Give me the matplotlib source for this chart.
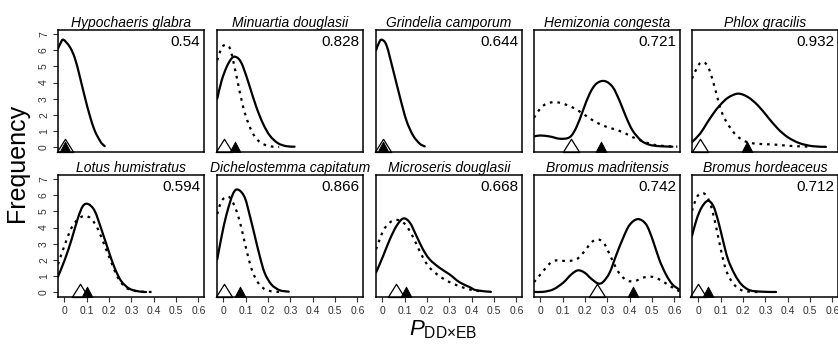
import matplotlib
matplotlib.use('Agg')
import matplotlib.pyplot as plt
import numpy as np
from matplotlib.path import Path
from matplotlib.patches import PathPatch

plt.rcParams['font.family'] = ['Liberation Sans', 'DejaVu Sans']
plt.rcParams['mathtext.fontset'] = 'custom'
plt.rcParams['mathtext.rm'] = 'Liberation Sans'
plt.rcParams['mathtext.it'] = 'Liberation Sans:italic'

# ---------------- data ----------------
titles = ['Hypochaeris glabra', 'Minuartia douglasii', 'Grindelia camporum',
          'Hemizonia congesta', 'Phlox gracilis',
          'Lotus humistratus', 'Dichelostemma capitatum', 'Microseris douglasii',
          'Bromus madritensis', 'Bromus hordeaceus']
scores = ['0.54', '0.828', '0.644', '0.721', '0.932',
          '0.594', '0.866', '0.668', '0.742', '0.712']
open_tri_x = [0.002, 0.002, 0.002, 0.136, 0.010, 0.070, 0.003, 0.060, 0.253, 0.000]
filled_tri_x = [0.002, 0.052, 0.002, 0.273, 0.220, 0.102, 0.077, 0.108, 0.413, 0.044]

x_ticks = [0, 0.1, 0.2, 0.3, 0.4, 0.5, 0.6]
x_tick_labels = ['0', '0.1', '0.2', '0.3', '0.4', '0.5', '0.6']
y_ticks = [0, 1, 2, 3, 4, 5, 6, 7]

# solid curves
s1_x = [-0.028, -0.016, -0.004, 0.025, 0.048, 0.070, 0.092, 0.114, 0.136, 0.159, 0.170, 0.181]
s1_y = [6.10, 6.45, 6.65, 6.20, 5.48, 4.34, 3.10, 1.96, 1.03, 0.41, 0.20, 0.06]
s2_x = [-0.027, -0.007, 0.015, 0.035, 0.050, 0.070, 0.089, 0.119, 0.148, 0.178, 0.208, 0.244, 0.282, 0.319]
s2_y = [3.00, 4.13, 4.96, 5.45, 5.60, 5.45, 4.96, 3.72, 2.48, 1.45, 0.72, 0.25, 0.06, 0.03]
s3_x = [-0.028, -0.015, -0.003, 0.019, 0.049, 0.079, 0.108, 0.138, 0.168, 0.190]
s3_y = [6.00, 6.45, 6.65, 6.30, 4.75, 3.10, 1.65, 0.72, 0.21, 0.05]
s4_x = [-0.028, -0.001, 0.043, 0.088, 0.132, 0.162, 0.191, 0.221, 0.251, 0.288, 0.324, 0.354, 0.384, 0.413, 0.451, 0.488, 0.532, 0.591]
s4_y = [0.66, 0.72, 0.66, 0.52, 0.62, 1.24, 2.27, 3.31, 3.93, 4.09, 3.72, 2.89, 1.86, 1.03, 0.41, 0.15, 0.06, 0.03]
s5_x = [-0.028, 0.008, 0.037, 0.067, 0.096, 0.133, 0.178, 0.222, 0.267, 0.311, 0.356, 0.400, 0.452, 0.511, 0.571]
s5_y = [0.31, 0.83, 1.45, 2.07, 2.58, 3.06, 3.31, 3.10, 2.58, 1.86, 1.14, 0.62, 0.25, 0.06, 0.02]
s6_x = [-0.028, 0.003, 0.033, 0.062, 0.084, 0.107, 0.136, 0.166, 0.196, 0.225, 0.255, 0.292, 0.336, 0.366]
s6_y = [0.96, 2.03, 3.27, 4.62, 5.34, 5.45, 5.03, 3.89, 2.65, 1.51, 0.68, 0.21, 0.04, 0.01]
s7_x = [-0.027, -0.007, 0.015, 0.044, 0.067, 0.096, 0.119, 0.141, 0.163, 0.185, 0.215, 0.252, 0.293]
s7_y = [2.03, 3.48, 4.83, 6.10, 6.34, 5.86, 4.72, 3.48, 2.24, 1.20, 0.48, 0.12, 0.03]
s8_x = [-0.028, 0.004, 0.034, 0.064, 0.094, 0.123, 0.153, 0.182, 0.212, 0.256, 0.301, 0.345, 0.390, 0.420, 0.486]
s8_y = [1.20, 2.24, 3.27, 4.10, 4.56, 4.31, 3.48, 2.65, 2.03, 1.51, 1.10, 0.62, 0.32, 0.12, 0.02]
s9_x = [-0.028, 0.013, 0.058, 0.102, 0.139, 0.169, 0.199, 0.228, 0.258, 0.280, 0.310, 0.340, 0.369, 0.399, 0.436, 0.473, 0.502, 0.532, 0.562, 0.591, 0.621]
s9_y = [0.02, 0.02, 0.17, 0.58, 1.10, 1.35, 1.20, 0.83, 0.54, 0.62, 1.20, 2.30, 3.30, 4.15, 4.52, 4.20, 3.27, 2.03, 1.10, 0.48, 0.17]
s10_x = [-0.028, -0.007, 0.015, 0.042, 0.067, 0.089, 0.111, 0.133, 0.163, 0.193, 0.230, 0.282, 0.348]
s10_y = [3.48, 4.52, 5.24, 5.65, 5.34, 4.41, 3.17, 2.03, 1.10, 0.48, 0.12, 0.03, 0.01]

# dotted curves
d2_x = [-0.027, -0.012, 0.003, 0.030, 0.060, 0.089, 0.119, 0.148, 0.185, 0.222, 0.250]
d2_y = [5.37, 6.00, 6.30, 6.10, 4.34, 2.48, 1.24, 0.52, 0.15, 0.03, 0.01]
d4_x = [-0.028, -0.001, 0.028, 0.065, 0.102, 0.147, 0.191, 0.236, 0.280, 0.324, 0.369, 0.413, 0.458, 0.502, 0.547, 0.613]
d4_y = [1.82, 2.38, 2.69, 2.79, 2.69, 2.44, 2.07, 1.65, 1.34, 1.14, 0.93, 0.62, 0.37, 0.17, 0.08, 0.03]
d5_x = [-0.028, 0.000, 0.022, 0.044, 0.067, 0.089, 0.111, 0.141, 0.171, 0.208, 0.260, 0.333, 0.407, 0.496]
d5_y = [4.24, 5.06, 5.27, 4.96, 4.03, 2.89, 1.96, 1.24, 0.72, 0.37, 0.21, 0.17, 0.08, 0.03]
d6_x = [-0.028, 0.003, 0.033, 0.062, 0.092, 0.122, 0.151, 0.181, 0.211, 0.240, 0.277, 0.322, 0.366, 0.396]
d6_y = [1.72, 2.96, 4.00, 4.52, 4.72, 4.52, 3.89, 2.86, 1.83, 0.89, 0.27, 0.06, 0.02, 0.01]
d7_x = [-0.027, -0.007, 0.022, 0.045, 0.067, 0.089, 0.111, 0.133, 0.160, 0.190, 0.222, 0.260]
d7_y = [4.83, 5.65, 5.92, 5.50, 4.70, 3.50, 2.20, 1.20, 0.50, 0.15, 0.04, 0.01]
d8_x = [-0.028, 0.004, 0.034, 0.064, 0.094, 0.123, 0.153, 0.182, 0.212, 0.256, 0.301, 0.345, 0.390, 0.440]
d8_y = [2.65, 3.79, 4.31, 4.47, 4.31, 3.79, 2.96, 2.14, 1.51, 0.99, 0.62, 0.37, 0.17, 0.05]
d9_x = [-0.028, 0.013, 0.043, 0.073, 0.117, 0.162, 0.199, 0.228, 0.258, 0.288, 0.317, 0.347, 0.384, 0.421, 0.458, 0.495, 0.532, 0.569, 0.606, 0.625]
d9_y = [0.62, 1.30, 1.78, 1.97, 1.93, 2.03, 2.55, 3.07, 3.27, 2.96, 2.14, 1.30, 0.75, 0.68, 0.89, 0.96, 0.79, 0.48, 0.17, 0.05]
d10_x = [-0.028, -0.007, 0.015, 0.037, 0.059, 0.082, 0.104, 0.126, 0.156, 0.193, 0.237, 0.282]
d10_y = [5.03, 5.86, 6.13, 5.96, 5.24, 3.89, 2.45, 1.30, 0.54, 0.12, 0.02, 0.01]

solid_curves = [(s1_x, s1_y), (s2_x, s2_y), (s3_x, s3_y), (s4_x, s4_y), (s5_x, s5_y),
                (s6_x, s6_y), (s7_x, s7_y), (s8_x, s8_y), (s9_x, s9_y), (s10_x, s10_y)]
dotted_curves = [None, (d2_x, d2_y), None, (d4_x, d4_y), (d5_x, d5_y),
                 (d6_x, d6_y), (d7_x, d7_y), (d8_x, d8_y), (d9_x, d9_y), (d10_x, d10_y)]


def smooth_path(x, y):
    """Bezier path passing through the read points (Catmull-Rom style tangents)."""
    p = np.column_stack([x, y]).astype(float)
    n = len(p)
    verts = [tuple(p[0])]
    codes = [Path.MOVETO]
    for i in range(n - 1):
        p0 = p[i - 1] if i > 0 else p[i]
        p1 = p[i]
        p2 = p[i + 1]
        p3 = p[i + 2] if i + 2 < n else p[i + 1]
        c1 = p1 + (p2 - p0) / 6.0
        c2 = p2 - (p3 - p1) / 6.0
        verts += [tuple(c1), tuple(c2), tuple(p2)]
        codes += [Path.CURVE4] * 3
    return Path(verts, codes)


# ---------------- layout ----------------
W, H = 838, 344
fig = plt.figure(figsize=(W / 100, H / 100), dpi=100)
col_left = [58, 217, 376, 534, 692]
row_top = [30, 175]
pw, ph = 146, 122
tick_col = '#333333'

open_tri = Path([(-0.5, 0.0), (0.5, 0.0), (0.0, 0.8), (-0.5, 0.0)],
                [Path.MOVETO, Path.LINETO, Path.LINETO, Path.CLOSEPOLY])
filled_tri = Path([(-0.5, 0.0), (0.5, 0.0), (0.0, 0.95), (-0.5, 0.0)],
                  [Path.MOVETO, Path.LINETO, Path.LINETO, Path.CLOSEPOLY])

for i in range(10):
    r, c = divmod(i, 5)
    ax = fig.add_axes([col_left[c] / W, 1 - (row_top[r] + ph) / H, pw / W, ph / H])
    ax.set_xlim(-0.028, 0.625)
    ax.set_ylim(-0.3, 7.25)
    sx, sy = solid_curves[i]
    ax.add_patch(PathPatch(smooth_path(sx, sy), fill=False, edgecolor='black',
                           lw=1.6, capstyle='round', joinstyle='round'))
    if dotted_curves[i] is not None:
        dx, dy = dotted_curves[i]
        ax.add_patch(PathPatch(smooth_path(dx, dy), fill=False, edgecolor='black',
                               lw=1.6, linestyle=(0, (1.2, 2.2)), capstyle='butt'))
    tr = ax.get_xaxis_transform()
    ax.plot([open_tri_x[i]], [0], transform=tr, marker=open_tri, markersize=19,
            markerfacecolor='none', markeredgecolor='black', markeredgewidth=0.9,
            linestyle='none', clip_on=False)
    ax.plot([filled_tri_x[i]], [0], transform=tr, marker=filled_tri, markersize=15,
            markerfacecolor='black', markeredgecolor='black', markeredgewidth=0.6,
            linestyle='none', clip_on=False)
    ax.set_title(titles[i], fontsize=10, fontstyle='italic', pad=2.5)
    ax.text(0.975, 0.955, scores[i], transform=ax.transAxes, ha='right', va='top', fontsize=11)
    for sp in ax.spines.values():
        sp.set_linewidth(1.1)
    ax.tick_params(length=3.5, width=0.8, labelsize=7.5, pad=3, colors=tick_col)
    ax.set_xticks(x_ticks)
    ax.set_yticks(y_ticks)
    if r == 1:
        ax.set_xticklabels(x_tick_labels)
    else:
        ax.tick_params(axis='x', bottom=False, labelbottom=False)
    if c == 0:
        ax.set_yticklabels([str(v) for v in y_ticks])
        for lab in ax.get_yticklabels():
            lab.set_rotation(90)
            lab.set_va('center')
    else:
        ax.tick_params(axis='y', left=False, labelleft=False)

fig.text(17 / W, 1 - 163 / H, 'Frequency', rotation=90, ha='center', va='center', fontsize=18)
fig.text(443 / W, 1 - 330 / H, r'$P_{\mathrm{DD{\times}EB}}$', ha='center', va='center', fontsize=16)

fig.savefig('out.png', dpi=100)
